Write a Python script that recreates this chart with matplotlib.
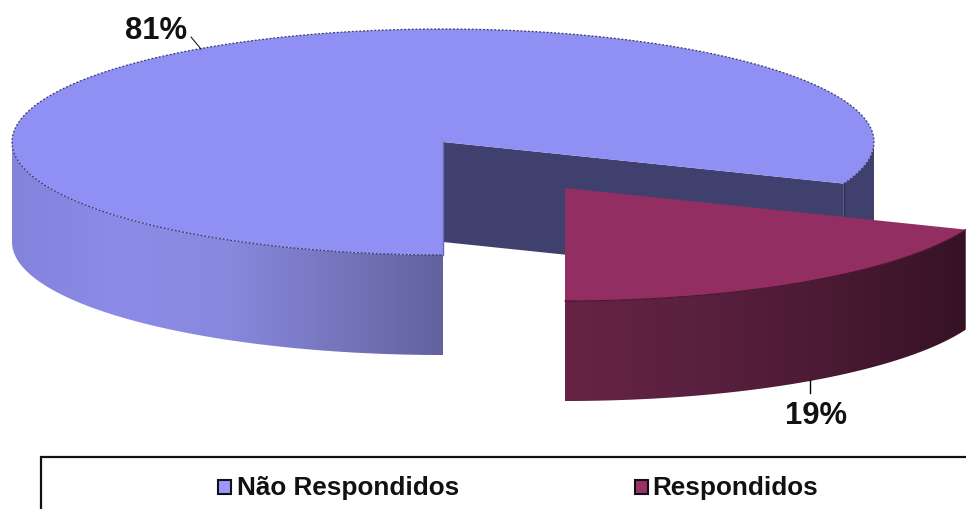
import numpy as np
import matplotlib
matplotlib.use("Agg")
from matplotlib import pyplot as plt
from matplotlib.colors import LinearSegmentedColormap
from matplotlib.patches import Polygon, Rectangle

labels = ["Não Respondidos", "Respondidos"]
values = [81, 19]
pct_labels = ["81%", "19%"]
colors = ["#9090F4", "#932E62"]
legend_colors = ["#9999FF", "#993366"]

plt.rcParams["font.family"] = ["Liberation Sans", "DejaVu Sans"]

RX, RY, DEPTH = 431, 113, 100
CENTER = (443, 143)
EXPLODED = (565, 189)
START = -90  # slices start at the front of the pie


def arc(c, a0, a1, dy=0, n=200):
    t = np.radians(np.linspace(a0, a1, n))
    return np.column_stack([c[0] + RX * np.cos(t), c[1] - RY * np.sin(t) + dy])


def gradient_fill(ax, poly, stops, extent, z):
    # horizontal gradient clipped to the polygon
    cmap = LinearSegmentedColormap.from_list("g", stops)
    im = ax.imshow(np.linspace(0, 1, 256).reshape(1, -1), cmap=cmap, extent=extent,
                   aspect="auto", zorder=z, interpolation="bilinear")
    patch = Polygon(poly, closed=True, transform=ax.transData, fc="none", ec="none")
    ax.add_patch(patch)
    im.set_clip_path(patch)


fig = plt.figure(figsize=(9.66, 5.10), dpi=100)
ax = fig.add_axes([0, 0, 1, 1])

# angle where the two slices meet
split = START + 360 * values[1] / sum(values)

# big slice: inner walls and the dark bit of rim behind the cut
rim = arc(CENTER, split, 0, 0, 60)
back = np.vstack([rim, arc(CENTER, 0, split, DEPTH, 60)])
ax.add_patch(Polygon(back, closed=True, fc="#40406E", ec="none", zorder=1))
cut = np.array(arc(CENTER, split, split, 0, 1))
wall = np.array([CENTER, cut[0], cut[0] + [0, DEPTH], [CENTER[0], CENTER[1] + DEPTH]])
ax.add_patch(Polygon(wall, closed=True, fc="#40406E", ec="none", zorder=2))
ax.plot([cut[0][0]] * 2, [cut[0][1], cut[0][1] + DEPTH], color="#2E2E55", lw=1, zorder=2)

# big slice: front side
front = np.vstack([arc(CENTER, 180, 270), arc(CENTER, 270, 180, DEPTH)])
gradient_fill(ax, front, ["#8383DC", "#8C8CE8", "#8888DE", "#7676BE", "#62629E"],
              [CENTER[0] - RX, CENTER[0], CENTER[1] + RY + DEPTH, CENTER[1]], 3)

# big slice: top
top = np.vstack([[CENTER], arc(CENTER, split, split + 360 * values[0] / sum(values), 0, 500)])
ax.add_patch(Polygon(top, closed=True, fc=colors[0], ec="none", zorder=4))
ax.plot(*arc(CENTER, split, split + 360 * values[0] / sum(values), 0, 500).T,
        color="#3A3A66", lw=0.9, ls=(0, (1.5, 1.5)), zorder=5)
ax.plot([CENTER[0]] * 2, [CENTER[1], CENTER[1] + RY], color="#6A6AB0", lw=1, zorder=5)

# small slice: side then top
side = np.vstack([arc(EXPLODED, START, split), arc(EXPLODED, split, START, DEPTH)])
gradient_fill(ax, side, ["#662345", "#5A2040", "#4A1A33", "#361224"],
              [EXPLODED[0], EXPLODED[0] + RX * np.cos(np.radians(split)),
               EXPLODED[1] + RY + DEPTH, EXPLODED[1]], 6)
top2 = np.vstack([[EXPLODED], arc(EXPLODED, START, split)])
ax.add_patch(Polygon(top2, closed=True, fc=colors[1], ec="none", zorder=7))
ax.plot(*arc(EXPLODED, START, split).T, color="#4A1530", lw=0.8, zorder=8)

# percentage labels with leader lines
ax.plot([191, 201], [38, 50], color="black", lw=0.7, zorder=9)
ax.plot([810, 810], [381, 394], color="black", lw=1, zorder=9)
ax.text(156, 31, pct_labels[0], fontsize=22.3, fontweight="bold", ha="center", va="center", color="#111111")
ax.text(816, 416, pct_labels[1], fontsize=22.3, fontweight="bold", ha="center", va="center", color="#111111")

# legend, box runs off the right and bottom of the picture
ax.add_patch(Rectangle((41, 458), 1000, 100, fc="white", ec="#111111", lw=1.6, zorder=9))
for x_box, x_txt, name, col in zip([218, 635], [237, 652], labels, legend_colors):
    ax.add_patch(Rectangle((x_box, 481), 13, 14, fc=col, ec="#111111", lw=1.5, zorder=10))
    ax.text(x_txt, 488, name, fontsize=18.8, fontweight="bold", ha="left", va="center",
            color="#111111", zorder=10)

ax.set_xlim(0, 966)
ax.set_ylim(510, 0)
ax.axis("off")
fig.savefig("out.png", dpi=100)
